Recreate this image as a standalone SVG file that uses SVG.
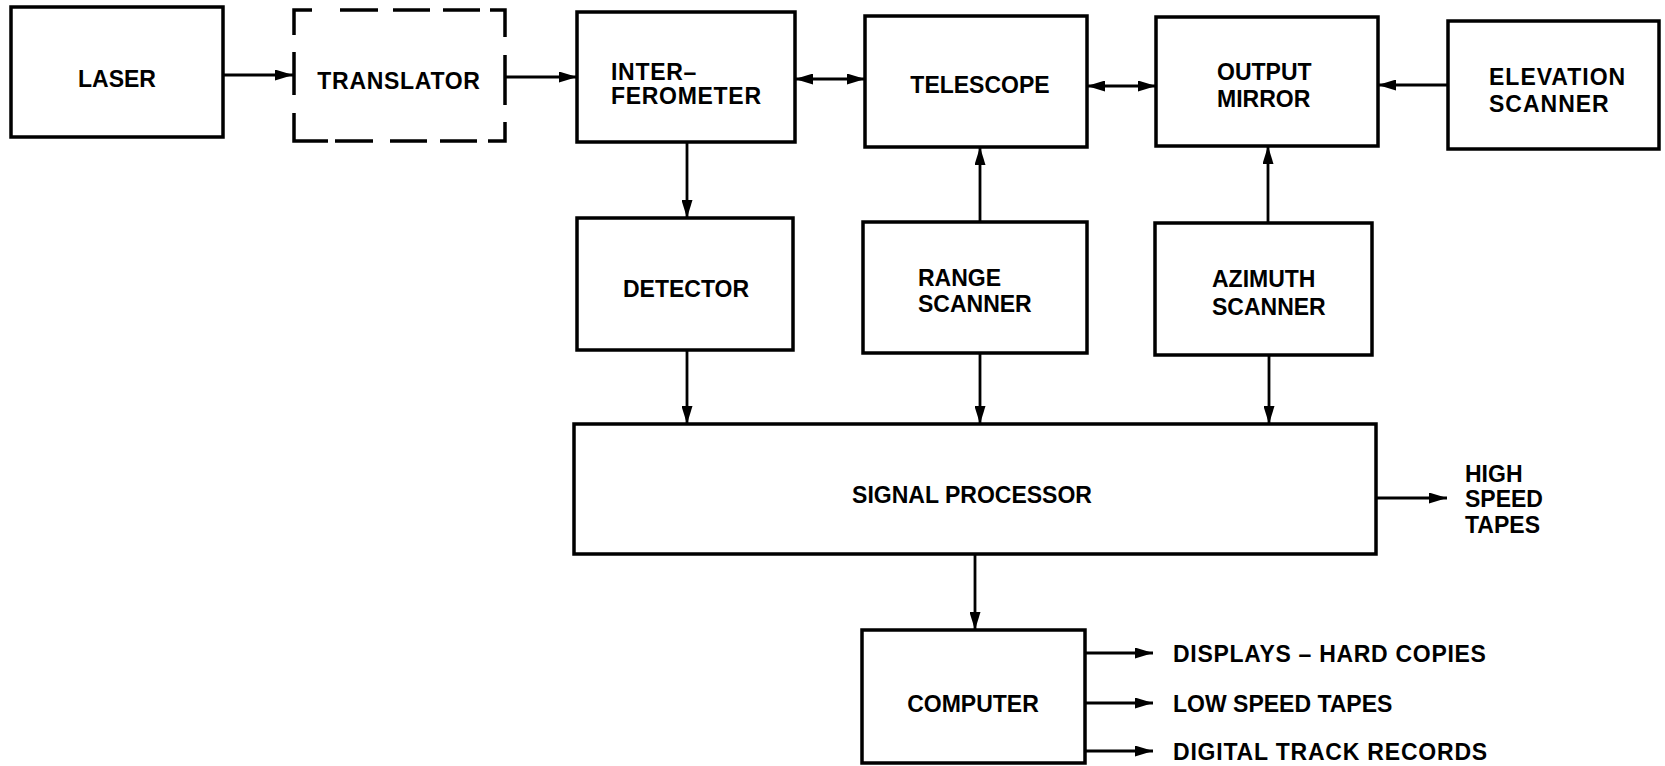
<svg xmlns="http://www.w3.org/2000/svg" width="1665" height="766" viewBox="0 0 1665 766">
<style>
.box{fill:#fff;stroke:#000;stroke-width:3.5}
.dash{fill:none;stroke:#000;stroke-width:3.5;stroke-linecap:butt}
.c{fill:none;stroke:#000;stroke-width:2.8}
.t{font-family:"Liberation Sans",Arial,Helvetica,sans-serif;font-weight:bold;font-size:23px;fill:#000}
.m{text-anchor:middle}
.w{letter-spacing:0.7px}
</style>
<defs>
<marker id="ah" viewBox="0 0 18 11" refX="18" refY="5.5" markerWidth="18" markerHeight="11" markerUnits="userSpaceOnUse" orient="auto-start-reverse">
<path d="M0,0 L18,5.5 L0,11 z" fill="#000"/>
</marker>
</defs>
<rect width="1665" height="766" fill="#fff"/>

<g id="laser"><rect class="box" x="11" y="7" width="212" height="130"/><text class="t m" x="117" y="87">LASER</text></g>
<g id="translator">
<path class="dash" d="M294,35 V10 H312 M340,10 H378 M393,10 H430 M443,10 H480 M490,10 H505 V37 M505,55 V105 M505,122 V141 H488 M477,141 H440 M427,141 H390 M373,141 H335 M328,141 H294 V113 M294,95 V52"/>
<text class="t m w" x="399" y="89">TRANSLATOR</text></g>
<g id="interferometer"><rect class="box" x="577" y="12" width="218" height="130"/><text class="t w" x="611" y="80">INTER–</text><text class="t w" x="611" y="104">FEROMETER</text></g>
<g id="telescope"><rect class="box" x="865" y="16" width="222" height="131"/><text class="t m" x="980" y="93">TELESCOPE</text></g>
<g id="output-mirror"><rect class="box" x="1156" y="17" width="222" height="129"/><text class="t" x="1217" y="80">OUTPUT</text><text class="t" x="1217" y="107">MIRROR</text></g>
<g id="elevation-scanner"><rect class="box" x="1448" y="21" width="211" height="128"/><text class="t" x="1489" y="85" style="letter-spacing:1px">ELEVATION</text><text class="t" x="1489" y="112" style="letter-spacing:1px">SCANNER</text></g>
<g id="detector"><rect class="box" x="577" y="218" width="216" height="132"/><text class="t m" x="686" y="297">DETECTOR</text></g>
<g id="range-scanner"><rect class="box" x="863" y="222" width="224" height="131"/><text class="t" x="918" y="286">RANGE</text><text class="t" x="918" y="312">SCANNER</text></g>
<g id="azimuth-scanner"><rect class="box" x="1155" y="223" width="217" height="132"/><text class="t" x="1212" y="287">AZIMUTH</text><text class="t" x="1212" y="315">SCANNER</text></g>
<g id="signal-processor"><rect class="box" x="574" y="424" width="802" height="130"/><text class="t m" x="972" y="503">SIGNAL PROCESSOR</text></g>
<g id="high-speed-tapes"><text class="t" x="1465" y="482">HIGH</text><text class="t" x="1465" y="507">SPEED</text><text class="t" x="1465" y="533">TAPES</text></g>
<g id="computer"><rect class="box" x="862" y="630" width="223" height="133"/><text class="t m" x="973" y="712">COMPUTER</text></g>
<g id="outputs"><text class="t w" x="1173" y="662">DISPLAYS – HARD COPIES</text><text class="t" x="1173" y="712">LOW SPEED TAPES</text><text class="t" x="1173" y="760" style="letter-spacing:0.8px">DIGITAL TRACK RECORDS</text></g>

<g id="connectors">
<line class="c" x1="223" y1="75" x2="293" y2="75" marker-end="url(#ah)"/>
<line class="c" x1="505" y1="77" x2="577" y2="77" marker-end="url(#ah)"/>
<line class="c" x1="795" y1="79" x2="865" y2="79" marker-start="url(#ah)" marker-end="url(#ah)"/>
<line class="c" x1="1087" y1="86" x2="1156" y2="86" marker-start="url(#ah)" marker-end="url(#ah)"/>
<line class="c" x1="1448" y1="85" x2="1378" y2="85" marker-end="url(#ah)"/>
<line class="c" x1="687" y1="142" x2="687" y2="218" marker-end="url(#ah)"/>
<line class="c" x1="980" y1="222" x2="980" y2="147" marker-end="url(#ah)"/>
<line class="c" x1="1268" y1="223" x2="1268" y2="146" marker-end="url(#ah)"/>
<line class="c" x1="687" y1="350" x2="687" y2="424" marker-end="url(#ah)"/>
<line class="c" x1="980" y1="353" x2="980" y2="424" marker-end="url(#ah)"/>
<line class="c" x1="1269" y1="355" x2="1269" y2="424" marker-end="url(#ah)"/>
<line class="c" x1="1376" y1="498" x2="1447" y2="498" marker-end="url(#ah)"/>
<line class="c" x1="975" y1="554" x2="975" y2="630" marker-end="url(#ah)"/>
<line class="c" x1="1085" y1="653" x2="1153" y2="653" marker-end="url(#ah)"/>
<line class="c" x1="1085" y1="703" x2="1153" y2="703" marker-end="url(#ah)"/>
<line class="c" x1="1085" y1="751" x2="1153" y2="751" marker-end="url(#ah)"/>
</g>
</svg>
